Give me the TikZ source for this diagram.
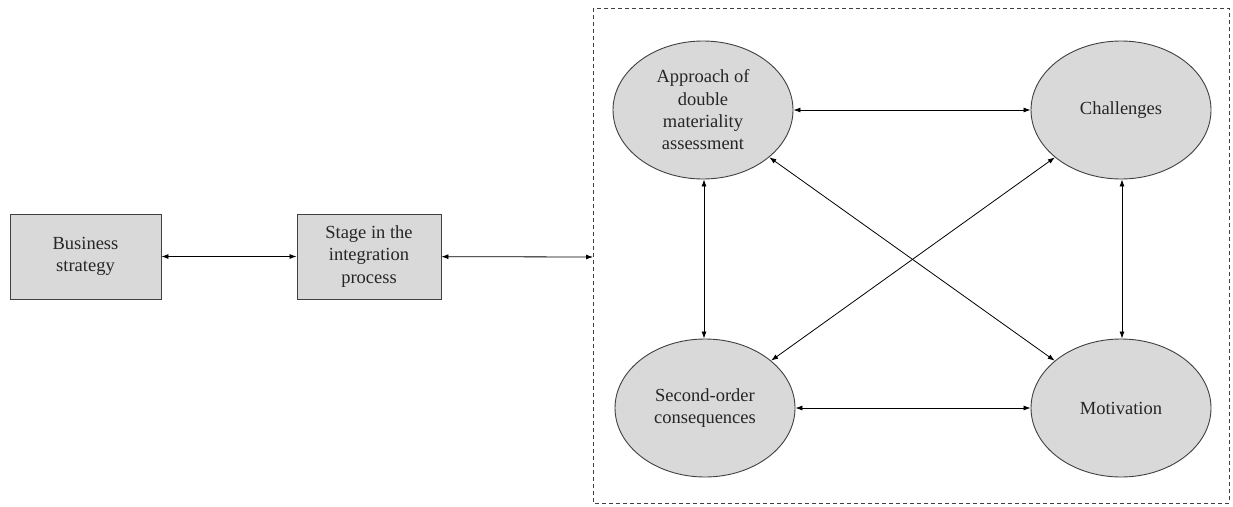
\documentclass[tikz,border=0pt]{standalone}
\usepackage{fontspec}
\setmainfont{Liberation Serif}
\usetikzlibrary{arrows.meta,shapes.geometric}
\definecolor{boxfill}{HTML}{D9D9D9}
\definecolor{edge}{HTML}{404040}
\tikzset{
  x=1pt, y=-1pt,
  txt/.style={font=\fontsize{18.5}{22.3}\selectfont, align=center, text=black!85},
  rectbox/.style={txt, draw=edge, line width=0.9pt, fill=boxfill, inner sep=0pt},
  oval/.style={txt, ellipse, draw=edge, line width=0.9pt, fill=boxfill,
    minimum width=180pt, minimum height=138pt, inner sep=0pt},
  link/.style={{Latex[length=7pt,width=5pt]}-{Latex[length=7pt,width=5pt]}, line width=0.8pt, black},
  frame/.style={draw=edge, line width=0.7pt, dash pattern=on 4pt off 3pt}
}
\begin{document}
\begin{tikzpicture}
\useasboundingbox (0,0) rectangle (1233,506);

% dashed frame around the four factors
\draw[frame] (593,8) rectangle (1229,503);
\coordinate (fin) at (593,257);

% left-hand boxes
\node[rectbox, minimum width=151pt, minimum height=85pt] (bs) at (85.5,256.5) {Business\\strategy};
\node[rectbox, minimum width=144pt, minimum height=85pt] (st) at (369,256.5) {Stage in the\\integration\\process};

% factors
\node[oval] (ap) at (703,110) {Approach of\\double\\materiality\\assessment};
\node[oval] (ch) at (1121,110) {Challenges};
\node[oval] (so) at (705,408) {Second-order\\consequences};
\node[oval] (mo) at (1121,408) {Motivation};

% connectors
\draw[link] (bs) -- (st);
\draw[link] (st) -- (fin);
\draw[link] (ap) -- (ch);
\draw[link] (so) -- (mo);
\draw[link] (ap.south -| 704,0) -- (so.north -| 704,0);
\draw[link] (ch.south -| 1122,0) -- (mo.north -| 1122,0);
\draw[link] (ap) -- (mo);
\draw[link] (ch) -- (so);
\end{tikzpicture}
\end{document}
